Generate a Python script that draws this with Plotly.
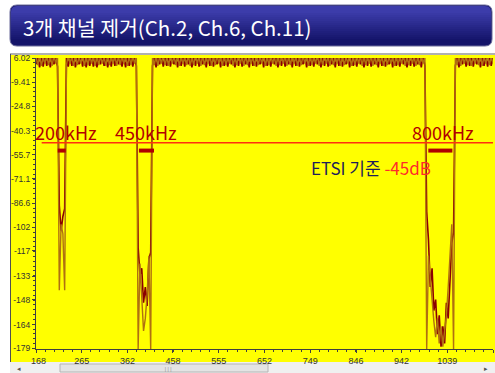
import numpy as np
import plotly.graph_objects as go

# ---------------- data ----------------
freq_start, freq_stop = 168, 1136

# brown trace (sweep bins, dB)
trace_a_db = [
    7, 1.5, 8, 1, 6.5, 2.5, 8, 1.5, 7, 1, 8, 2.5, 7,
    -142, -100, -106, -142,
    1.5, 8, 2.5, 7, 1, 8, 1.5, 6.5, 2.5, 8, 1, 7, 1.5, 8, 2.5,
    7, 1, 8, 1.5, 7, 2.5, 6.5, 1, 8, 1.5, 7, 2.5, 8, 1, 7, 1.5,
    8, 2.5, 6.5, 1, 7, 1.5, 8, 2.5, 7,
    -179.5, -125, -150, -168, -160, -145, -120, -179.5,
    7, 1.5, 8, 1, 7, 2.5, 8, 1.5, 6.5, 1,
    8, 2.5, 7, 1.5, 8, 1, 7, 2.5, 6.5, 1.5,
    8, 1, 7, 1.5, 8, 2.5, 7, 1, 8, 1.5,
    6.5, 2.5, 8, 1, 7, 1.5, 8, 2.5, 7, 1,
    8, 1.5, 6.5, 2.5, 8, 1, 7, 1.5, 8, 2.5,
    7, 1, 8, 1.5, 7, 2.5, 6.5, 1, 8, 1.5,
    7, 2.5, 8, 1, 7, 1.5, 8, 2.5, 6.5, 1,
    8, 1.5, 7, 2.5, 8, 1, 7, 1.5, 8, 2.5,
    7, 1, 6.5, 1.5, 8, 2.5, 7, 1, 8, 1.5,
    7, 2.5, 8, 1, 6.5, 1.5, 8, 2.5, 7, 1,
    8, 1.5, 7, 2.5, 8, 1, 7, 1.5, 6.5, 2.5,
    8, 1, 7, 1.5, 8, 2.5, 7, 1, 8, 1.5,
    6.5, 2.5, 8, 1, 7, 1.5, 8, 2.5, 7, 1,
    8, 1.5, 7, 2.5, 6.5, 1, 8, 1.5, 7, 2.5,
    8, 1, 7, 1.5, 8, 2.5, 7, 1, 6.5, 1.5,
    8, 2.5, 7,
    -179.5, -120, -135, -150, -162, -172, -160, -176, -165, -178, -168, -158, -140, -118, -100, -179.5,
    7, 1.5, 8, 1, 7, 2.5, 8, 1.5, 6.5, 1,
    8, 2.5, 7, 1.5, 8, 1, 7, 2.5, 8, 1.5,
    7, 2.5,
]

# dark red trace (sweep bins, dB)
trace_b_db = [
    2, 7, 0, 6.5, 0.5, 8, 1, 7, 0, 6.5, 2, 7, 0.5,
    -88, -104, -95, -90,
    7, 0.5, 8, 1, 7, 0, 6.5, 2, 8, 0.5, 6.5, 0, 7, 1, 8,
    0.5, 6.5, 0, 7, 2, 8, 1, 7, 0, 6.5, 0.5, 8, 1, 7, 2, 8,
    0.5, 6.5, 0, 7, 1, 8, 0.5, 6.5, 1,
    -115, -132, -128, -150, -140, -152, -122, -118,
    1, 7, 0, 6.5, 2, 8, 0.5, 6.5, 1, 8,
    0.5, 7, 2, 8, 0, 6.5, 1, 7, 0.5, 8,
    2, 6.5, 0, 7, 1, 8, 0.5, 6.5, 2, 7,
    0, 8, 1, 7, 0.5, 6.5, 2, 8, 0, 7,
    1, 6.5, 0.5, 8, 2, 7, 0, 6.5, 1, 8,
    0.5, 7, 2, 6.5, 0, 8, 1, 7, 0.5, 6.5,
    2, 8, 0, 7, 1, 6.5, 0.5, 8, 2, 7,
    0, 6.5, 1, 8, 0.5, 7, 2, 6.5, 0, 8,
    1, 7, 0.5, 6.5, 2, 8, 0, 7, 1, 6.5,
    0.5, 8, 2, 7, 0, 6.5, 1, 8, 0.5, 7,
    2, 6.5, 0, 8, 1, 7, 0.5, 6.5, 2, 8,
    0, 7, 1, 6.5, 0.5, 8, 2, 7, 0, 6.5,
    1, 8, 0.5, 7, 2, 6.5, 0, 8, 1, 7,
    0.5, 6.5, 2, 8, 0, 7, 1, 6.5, 0.5, 8,
    2, 7, 0, 6.5, 1, 8, 0.5, 7, 2, 6.5,
    0, 8, 1,
    -92, -110, -140, -128, -155, -148, -170, -158, -178, -165, -176, -150, -160, -130, -112, -105,
    1, 7, 0, 6.5, 2, 8, 0.5, 6.5, 1, 8,
    0.5, 7, 2, 8, 0, 6.5, 1, 7, 0.5, 8,
    1, 7,
]

x_tick_vals = [168, 265, 362, 458, 555, 652, 749, 846, 942, 1039, 1136]
y_tick_vals = [6.02, -9.41, -24.8, -40.3, -55.7, -71.1, -86.6, -102, -117, -133, -148, -164, -179]

channel_labels = ["200kHz", "450kHz", "800kHz"]
channel_bar_lo = [214, 386, 999]
channel_bar_hi = [231, 418, 1050]
channel_bar_db = [-53, -53, -53]
channel_label_x = [232, 402, 1031]
channel_label_db = [-41, -41, -41]

etsi_line_db = -48
etsi_line_start = 180
etsi_text = "ETSI 기준"
etsi_value_text = "-45dB"
etsi_text_x = 877
etsi_text_db = -64

title_text = "3개 채널 제거(Ch.2, Ch.6, Ch.11)"

assert len(trace_a_db) == len(trace_b_db)
freqs = np.linspace(freq_start, freq_stop, len(trace_a_db))

# ---------------- layout helpers ----------------
W, H = 495, 373
ML, MR, MT, MB = 36, 2, 58, 24
PW, PH = W - ML - MR, H - MT - MB


def px(x):
    return (x - ML) / PW


def py(y):
    return (H - MB - y) / PH


def rrect_path(x0, y0, x1, y1, r, top=True, bottom=True):
    rt = r if top else 0
    rb = r if bottom else 0
    pts = []
    pts.append(f"M{px(x0 + rt)},{py(y0)}")
    pts.append(f"L{px(x1 - rt)},{py(y0)}")
    if rt:
        pts.append(f"Q{px(x1)},{py(y0)} {px(x1)},{py(y0 + rt)}")
    pts.append(f"L{px(x1)},{py(y1 - rb)}")
    if rb:
        pts.append(f"Q{px(x1)},{py(y1)} {px(x1 - rb)},{py(y1)}")
    pts.append(f"L{px(x0 + rb)},{py(y1)}")
    if rb:
        pts.append(f"Q{px(x0)},{py(y1)} {px(x0)},{py(y1 - rb)}")
    pts.append(f"L{px(x0)},{py(y0 + rt)}")
    if rt:
        pts.append(f"Q{px(x0)},{py(y0)} {px(x0 + rt)},{py(y0)}")
    pts.append("Z")
    return " ".join(pts)


def mix(c1, c2, t):
    a = [int(c1[i:i + 2], 16) for i in (1, 3, 5)]
    b = [int(c2[i:i + 2], 16) for i in (1, 3, 5)]
    return "#" + "".join(f"{int(round(a[k] + (b[k] - a[k]) * t)):02x}" for k in range(3))


fig = go.Figure()

# spectrum traces
fig.add_trace(go.Scatter(x=freqs, y=trace_b_db, mode="lines",
                         line=dict(color="#8B0000", width=1.6), hoverinfo="skip"))
fig.add_trace(go.Scatter(x=freqs, y=trace_a_db, mode="lines",
                         line=dict(color="#B07010", width=1.4), hoverinfo="skip"))

# ETSI limit line
fig.add_trace(go.Scatter(x=[etsi_line_start, freq_stop], y=[etsi_line_db, etsi_line_db],
                         mode="lines", line=dict(color="#FF3010", width=1.6), hoverinfo="skip"))

# channel bandwidth bars
for lo, hi, db in zip(channel_bar_lo, channel_bar_hi, channel_bar_db):
    fig.add_trace(go.Scatter(x=[lo, hi], y=[db, db], mode="lines",
                             line=dict(color="#B00000", width=4), hoverinfo="skip"))

shapes = []
# yellow container
shapes.append(dict(type="rect", xref="paper", yref="paper", x0=px(10), x1=px(495),
                   y0=py(54), y1=py(362), fillcolor="#FFFF00", line=dict(width=0), layer="below"))
shapes.append(dict(type="line", xref="paper", yref="paper", x0=px(10), x1=px(495),
                   y0=py(54), y1=py(54), line=dict(color="#B0B0B0", width=2), layer="below"))
shapes.append(dict(type="line", xref="paper", yref="paper", x0=px(10.5), x1=px(10.5),
                   y0=py(54), y1=py(362), line=dict(color="#505050", width=1), layer="below"))
# scrollbar
shapes.append(dict(type="rect", xref="paper", yref="paper", x0=px(10), x1=px(495),
                   y0=py(362), y1=py(373), fillcolor="#F0F0F0", line=dict(width=0), layer="below"))
shapes.append(dict(type="rect", xref="paper", yref="paper", x0=px(60), x1=px(268),
                   y0=py(364), y1=py(372), fillcolor="#E4E4E4", line=dict(color="#B4B4B4", width=1),
                   layer="below"))
# title bar
shapes.append(dict(type="path", xref="paper", yref="paper", path=rrect_path(10, 5, 492, 46, 7),
                   fillcolor="#14146A", line=dict(color="#6A6A9A", width=1), layer="below"))
top_c, bot_c = "#3C3CAA", "#14146A"
shapes.append(dict(type="path", xref="paper", yref="paper", path=rrect_path(11, 6, 491, 13, 6, bottom=False),
                   fillcolor=top_c, line=dict(width=0), layer="below"))
n_bands = 14
for i in range(n_bands):
    y0 = 13 + i * 2
    c = mix(top_c, bot_c, (i + 1) / n_bands)
    shapes.append(dict(type="rect", xref="paper", yref="paper", x0=px(11), x1=px(491),
                       y0=py(y0), y1=py(y0 + 2.2), fillcolor=c, line=dict(width=0), layer="below"))

annotations = []
annotations.append(dict(xref="paper", yref="paper", x=px(21), y=py(27), text=title_text,
                        showarrow=False, xanchor="left", yanchor="middle",
                        font=dict(family="Noto Sans CJK KR", size=20.5, color="#FFFFFF")))
for lab, lx, ly in zip(channel_labels, channel_label_x, channel_label_db):
    annotations.append(dict(xref="x", yref="y", x=lx, y=ly, text=lab, showarrow=False,
                            xanchor="center", yanchor="middle",
                            font=dict(family="Noto Sans CJK KR", size=18, color="#B20000")))
annotations.append(dict(xref="x", yref="y", x=etsi_text_x, y=etsi_text_db,
                        text=f"{etsi_text} <span style='color:#FF2A2A'>{etsi_value_text}</span>",
                        showarrow=False, xanchor="center", yanchor="middle",
                        font=dict(family="Noto Sans CJK KR", size=17, color="#1E1E5A")))
# scrollbar glyphs
annotations.append(dict(xref="paper", yref="paper", x=px(15), y=py(368), text="◂", showarrow=False,
                        yanchor="middle", font=dict(size=7, color="#555555")))
annotations.append(dict(xref="paper", yref="paper", x=px(490), y=py(368), text="▸", showarrow=False,
                        yanchor="middle", font=dict(size=7, color="#555555")))
annotations.append(dict(xref="paper", yref="paper", x=px(163), y=py(369), text="|||", showarrow=False,
                        yanchor="middle", borderpad=0, font=dict(size=5, color="#777777")))

x_tick_text = [str(v) for v in x_tick_vals]
x_tick_text[0] = "\u2007" + x_tick_text[0]
x_tick_text[-1] = x_tick_text[-1] + "\u2007\u2007\u2007"

fig.update_layout(
    width=W, height=H,
    margin=dict(l=ML, r=MR, t=MT, b=MB, pad=0),
    paper_bgcolor="#FFFFFF", plot_bgcolor="#FFFF00",
    showlegend=False,
    shapes=shapes, annotations=annotations,
    xaxis=dict(range=[freq_start, freq_stop], tickmode="array", tickvals=x_tick_vals,
               ticktext=x_tick_text, ticks="outside", ticklen=3, tickcolor="#404040",
               showline=True, linecolor="#404040", linewidth=1, showgrid=False, zeroline=False,
               tickfont=dict(family="Liberation Sans", size=9, color="#333333"),
               minor=dict(ticks="outside", ticklen=2, tickcolor="#404040",
                          tickmode="linear", tick0=freq_start, dtick=19.36, showgrid=False),
               automargin=False, fixedrange=True),
    yaxis=dict(range=[-179.5, 6.02], tickmode="array", tickvals=y_tick_vals,
               ticktext=[str(v) for v in y_tick_vals], ticks="outside", ticklen=3,
               tickcolor="#404040", showline=True, linecolor="#404040", linewidth=1,
               showgrid=False, zeroline=False,
               tickfont=dict(family="Liberation Sans", size=8.5, color="#333333"),
               minor=dict(ticks="outside", ticklen=2, tickcolor="#404040",
                          tickmode="linear", tick0=6.02, dtick=3.086, showgrid=False),
               automargin=False, fixedrange=True),
)

fig.write_html("out.html", config={"displayModeBar": False},
               post_script="document.body.style.margin='0';document.body.style.overflow='hidden';")
